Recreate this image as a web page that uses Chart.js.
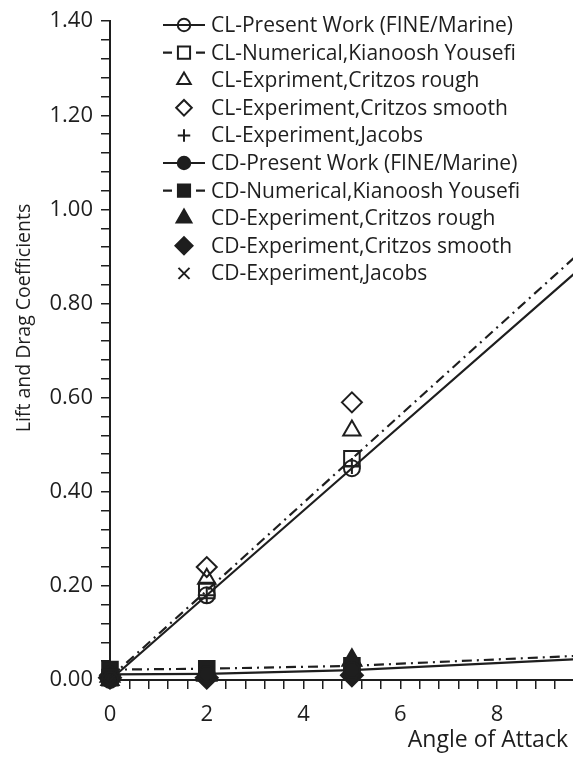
<!DOCTYPE html>
<html>
<head>
<meta charset="utf-8">
<script src="https://cdn.jsdelivr.net/npm/chart.js@4/dist/chart.umd.min.js"></script>
<style>
  html, body { margin: 0; padding: 0; background: #fff; }
  #wrap { width: 573px; height: 757px; }
</style>
</head>
<body>
<div id="wrap"><canvas id="myChart" width="573" height="757"></canvas></div>
<script>
// angles of attack (deg)
const lineAngles = [0, 2, 5, 10];
const expAngles = [0, 2, 5];

// lift coefficient
const clPresent = [0, 0.18, 0.45, 0.90];
const clYousefi = [0.005, 0.19, 0.47, 0.935];
const clCritzosRough = [0.0, 0.215, 0.53];
const clCritzosSmooth = [0.01, 0.24, 0.59];
const clJacobs = [0.0, 0.18, 0.455];

// drag coefficient
const cdPresent = [0.012, 0.013, 0.021, 0.046];
const cdYousefi = [0.022, 0.024, 0.03, 0.053];
const cdCritzosRough = [0.008, 0.01, 0.042];
const cdCritzosSmooth = [0.005, 0.005, 0.01];
const cdJacobs = [0.008, 0.01, 0.015];

const yTicksMajor = ["0.00", "0.20", "0.40", "0.60", "0.80", "1.00", "1.20", "1.40"];
const xTicksMajor = ["0", "2", "4", "6", "8"];

const FONT = "'Open Sans', 'Noto Sans', sans-serif";
const INK = "#1e1e1e";
const DASHDOT = [10, 5, 2, 5];
const CLEAR = "rgba(255,255,255,0)";

function pts(xs, ys) {
  return ys.map((y, i) => ({ x: xs[i], y: y }));
}

function series(label, xs, ys, style, r, filled, line) {
  return {
    label: label,
    data: pts(xs, ys),
    showLine: !!line,
    borderColor: INK,
    borderWidth: 2.2,
    borderDash: line === "dashdot" ? DASHDOT : [],
    pointStyle: style,
    pointRadius: r,
    pointBorderWidth: 2,
    pointBorderColor: INK,
    pointBackgroundColor: filled ? INK : CLEAR,
    backgroundColor: filled ? INK : CLEAR,
    legendLine: line || null,
    clip: false,
  };
}

const datasets = [
  series("CL-Present Work (FINE/Marine)", lineAngles, clPresent, "circle", 8, false, "solid"),
  series("CL-Numerical,Kianoosh Yousefi", lineAngles, clYousefi, "rect", 11, false, "dashdot"),
  series("CL-Expriment,Critzos rough", expAngles, clCritzosRough, "triangle", 10, false),
  series("CL-Experiment,Critzos smooth", expAngles, clCritzosSmooth, "rectRot", 10, false),
  series("CL-Experiment,Jacobs", expAngles, clJacobs, "cross", 8, false),
  series("CD-Present Work (FINE/Marine)", lineAngles, cdPresent, "circle", 8, true, "solid"),
  series("CD-Numerical,Kianoosh Yousefi", lineAngles, cdYousefi, "rect", 11, true, "dashdot"),
  series("CD-Experiment,Critzos rough", expAngles, cdCritzosRough, "triangle", 11, true),
  series("CD-Experiment,Critzos smooth", expAngles, cdCritzosSmooth, "rectRot", 11, true),
  series("CD-Experiment,Jacobs", expAngles, cdJacobs, "crossRot", 10, false),
];

// legend with line sample + marker, drawn on the canvas
const lineLegend = {
  id: "lineLegend",
  afterDraw(chart) {
    const ctx = chart.ctx;
    const x0 = 163, x1 = 205, xm = 184, xt = 211;
    ctx.save();
    ctx.font = "21px " + FONT;
    ctx.textBaseline = "middle";
    chart.data.datasets.forEach((ds, i) => {
      const y = 25 + i * 27.6;
      ctx.strokeStyle = INK;
      ctx.fillStyle = INK;
      ctx.lineWidth = 2.2;
      ctx.setLineDash([]);
      if (ds.legendLine === "solid") {
        ctx.beginPath();
        ctx.moveTo(x0, y);
        ctx.lineTo(x1, y);
        ctx.stroke();
      } else if (ds.legendLine === "dashdot") {
        ctx.beginPath();
        ctx.moveTo(x0, y);
        ctx.lineTo(x0 + 9, y);
        ctx.moveTo(x1 - 9, y);
        ctx.lineTo(x1, y);
        ctx.stroke();
      }
      ctx.lineWidth = 2;
      ctx.fillStyle = ds.pointBackgroundColor;
      Chart.helpers.drawPoint(ctx, {
        pointStyle: ds.pointStyle,
        radius: ds.pointRadius * 0.78,
        borderWidth: 2,
        rotation: 0,
      }, xm, y);
      ctx.fillStyle = INK;
      ctx.fillText(ds.label, xt, y + 1);
    });
    ctx.restore();
  },
};

// axis titles: y rotated a bit above the middle, x flush right under the ticks
const axisTitles = {
  id: "axisTitles",
  afterDraw(chart) {
    const ctx = chart.ctx;
    ctx.save();
    ctx.fillStyle = INK;
    ctx.textBaseline = "middle";

    ctx.font = "23px " + FONT;
    ctx.textAlign = "right";
    ctx.fillText("Angle of Attack", 568, 740);

    ctx.translate(24, 318);
    ctx.rotate(-Math.PI / 2);
    ctx.font = "19.5px " + FONT;
    ctx.textAlign = "center";
    ctx.fillText("Lift and Drag Coefficients", 0, 0);
    ctx.restore();
  },
};

function near(v, step) {
  return Math.abs(v / step - Math.round(v / step)) < 1e-6;
}

const ctx = document.getElementById("myChart");

new Chart(ctx, {
  type: "scatter",
  data: { datasets: datasets },
  plugins: [lineLegend, axisTitles],
  options: {
    responsive: false,
    animation: false,
    layout: { autoPadding: false, padding: { top: 20, right: 0, left: 0, bottom: 0 } },
    plugins: {
      legend: { display: false },
      tooltip: { enabled: false },
    },
    scales: {
      x: {
        type: "linear",
        min: 0,
        max: 9.57,
        afterFit: (s) => {
          s.height = 77;
          s.paddingLeft = 0;
          s.paddingRight = 0;
        },
        border: { color: INK, width: 2 },
        grid: {
          drawOnChartArea: false,
          color: INK,
          lineWidth: 1.5,
          tickLength: 9,
        },
        ticks: {
          stepSize: 0.4,
          autoSkip: false,
          includeBounds: false,
          maxRotation: 0,
          padding: 13,
          color: INK,
          font: { family: FONT, size: 22 },
          callback: (v) => {
            if (!near(v, 2)) return "";
            const lbl = String(Math.round(v));
            return xTicksMajor.includes(lbl) ? lbl : "";
          },
        },
      },
      y: {
        min: 0,
        max: 1.4,
        afterFit: (s) => { s.width = 110; },
        border: { color: INK, width: 2 },
        grid: {
          drawOnChartArea: false,
          color: INK,
          lineWidth: 1.5,
          tickLength: 9,
        },
        ticks: {
          stepSize: 0.04,
          autoSkip: false,
          includeBounds: false,
          padding: 8,
          color: INK,
          font: { family: FONT, size: 22 },
          callback: (v) => {
            if (!near(v, 0.2)) return "";
            const lbl = v.toFixed(2);
            return yTicksMajor.includes(lbl) ? lbl : "";
          },
        },
      },
    },
  },
});
</script>
</body>
</html>
